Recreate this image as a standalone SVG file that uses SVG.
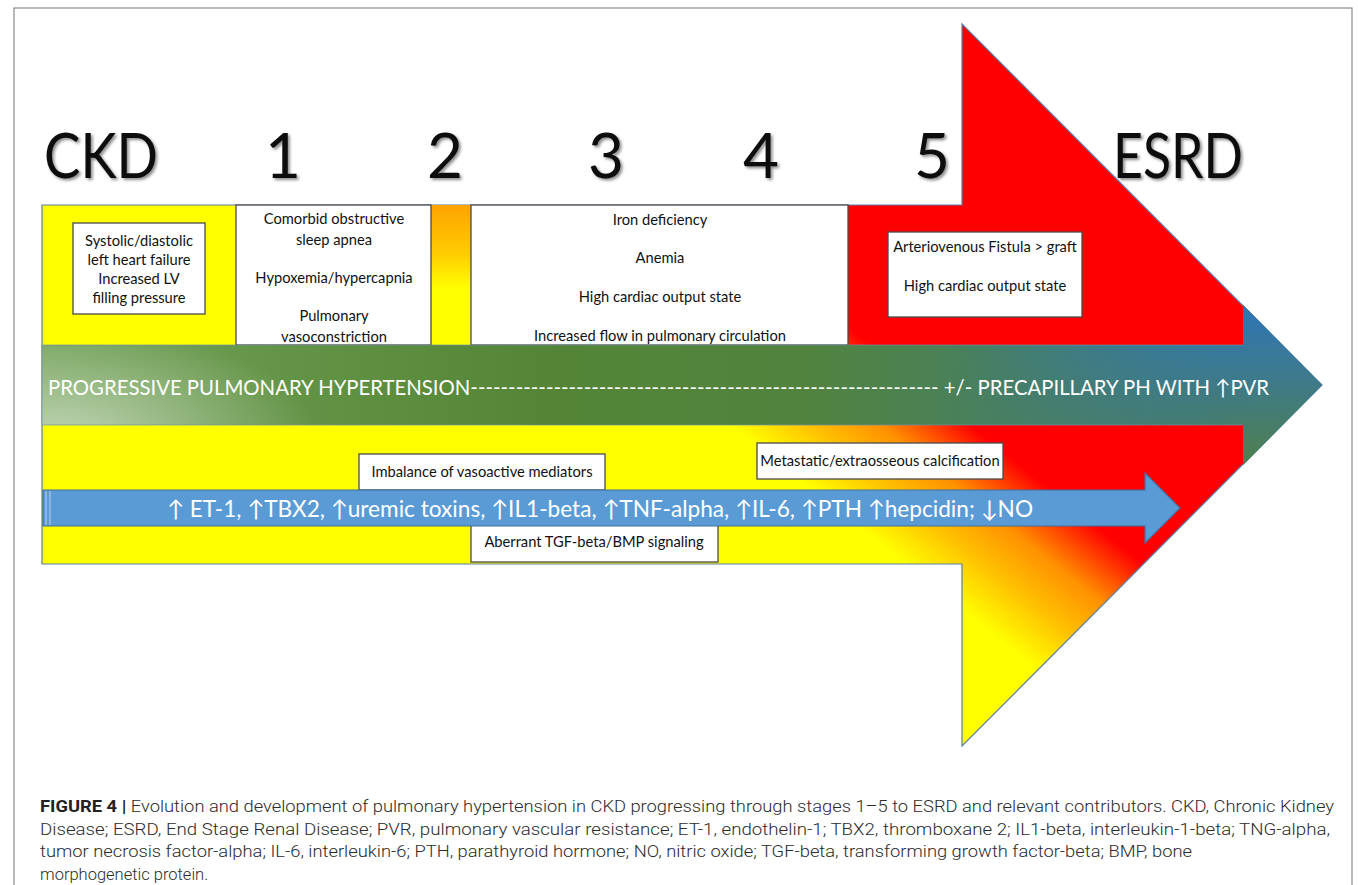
<svg xmlns="http://www.w3.org/2000/svg" width="1358" height="885" viewBox="0 0 1358 885">
<defs>
<style>
.lbl{font-family:Lato,"Liberation Sans",sans-serif;font-size:62px;fill:#0d0d0d;filter:url(#sh)}
.bx{fill:#fff;stroke:#4a4a4a;stroke-width:1.3}
.t{font-family:Lato,"Liberation Sans","DejaVu Sans",sans-serif;font-size:14.7px;fill:#111;text-anchor:middle}
.w{font-family:Lato,"Liberation Sans","DejaVu Sans",sans-serif;fill:#fff}
.cap{font-family:Roboto,"Liberation Sans",sans-serif;font-weight:300;font-size:16.5px;fill:#2b2b2b}
</style>
<filter id="sh" x="-20%" y="-20%" width="140%" height="140%">
<feDropShadow dx="2" dy="2" stdDeviation="1.5" flood-color="#000" flood-opacity="0.45"/>
</filter>
<linearGradient id="gMain" gradientUnits="userSpaceOnUse" x1="650" y1="400" x2="771" y2="249">
<stop offset="0" stop-color="#FFFF00"/>
<stop offset="0.16" stop-color="#FFFF00"/>
<stop offset="0.42" stop-color="#FFC000"/>
<stop offset="0.645" stop-color="#FF9000"/>
<stop offset="0.935" stop-color="#FF0000"/>
<stop offset="1" stop-color="#FF0000"/>
</linearGradient>
<linearGradient id="gCol2" x1="0" y1="0" x2="0" y2="1">
<stop offset="0" stop-color="#FFA300"/>
<stop offset="0.35" stop-color="#FFCC00"/>
<stop offset="0.6" stop-color="#FFFF00"/>
<stop offset="1" stop-color="#FFFF00"/>
</linearGradient>
<linearGradient id="gGreen" gradientUnits="userSpaceOnUse" x1="42" y1="0" x2="1322" y2="0">
<stop offset="0" stop-color="#74a25a"/>
<stop offset="0.15" stop-color="#66974a"/>
<stop offset="0.4" stop-color="#548536"/>
<stop offset="0.6" stop-color="#51833f"/>
<stop offset="0.8" stop-color="#467f6c"/>
<stop offset="1" stop-color="#3476a8"/>
</linearGradient>
<radialGradient id="gGlow" gradientUnits="userSpaceOnUse" cx="60" cy="440" r="260" gradientTransform="translate(0,440) scale(1,0.45) translate(0,-440)">
<stop offset="0" stop-color="#fff" stop-opacity="0.55"/>
<stop offset="1" stop-color="#fff" stop-opacity="0"/>
</radialGradient>
<linearGradient id="gVert" gradientUnits="userSpaceOnUse" x1="0" y1="305" x2="0" y2="465">
<stop offset="0" stop-color="#2e75b6"/>
<stop offset="0.45" stop-color="#3d7a8c"/>
<stop offset="1" stop-color="#4f7f4c"/>
</linearGradient>
<linearGradient id="gMaskH" gradientUnits="userSpaceOnUse" x1="950" y1="0" x2="1250" y2="0">
<stop offset="0" stop-color="#000"/>
<stop offset="1" stop-color="#fff"/>
</linearGradient>
<mask id="mR" maskUnits="userSpaceOnUse" x="0" y="0" width="1358" height="885">
<rect x="0" y="290" width="1358" height="190" fill="url(#gMaskH)"/>
</mask>
</defs>

<rect x="0" y="0" width="1358" height="885" fill="#fff"/>
<rect x="14" y="8" width="1338" height="890" fill="none" stroke="#8a8a8a" stroke-width="1.2"/>

<g id="stage-arrow">
<path d="M42,205 H962 V24 L1322,385 L962,746 V564 H42 Z" fill="url(#gMain)" stroke="#5b7fa6" stroke-width="1.2"/>
</g>

<g id="stage-labels">
<text class="lbl" x="44" y="178" textLength="114" lengthAdjust="spacingAndGlyphs">CKD</text>
<text class="lbl" x="283" y="178" text-anchor="middle">1</text>
<text class="lbl" x="445" y="178" text-anchor="middle">2</text>
<text class="lbl" x="606" y="178" text-anchor="middle">3</text>
<text class="lbl" x="761" y="178" text-anchor="middle">4</text>
<text class="lbl" x="932" y="178" text-anchor="middle">5</text>
<text class="lbl" x="1113" y="178" textLength="130" lengthAdjust="spacingAndGlyphs">ESRD</text>
</g>

<g id="stage2-column">
<rect x="431" y="205" width="40" height="140" fill="url(#gCol2)"/>
</g>

<g id="node-ckd">
<rect class="bx" x="73" y="223" width="132" height="91"/>
<text class="t" x="139" y="246">Systolic/diastolic</text>
<text class="t" x="139" y="265">left heart failure</text>
<text class="t" x="139" y="284">Increased LV</text>
<text class="t" x="139" y="303">filling pressure</text>
</g>

<g id="node-stage1">
<rect class="bx" x="236" y="205" width="195" height="140"/>
<text class="t" x="334" y="224">Comorbid obstructive</text>
<text class="t" x="334" y="245">sleep apnea</text>
<text class="t" x="334" y="283">Hypoxemia/hypercapnia</text>
<text class="t" x="334" y="321">Pulmonary</text>
<text class="t" x="334" y="342">vasoconstriction</text>
</g>

<g id="node-stage34">
<rect class="bx" x="471" y="205" width="377" height="140"/>
<text class="t" x="660" y="225">Iron deficiency</text>
<text class="t" x="660" y="263">Anemia</text>
<text class="t" x="660" y="302">High cardiac output state</text>
<text class="t" x="660" y="341">Increased flow in pulmonary circulation</text>
</g>

<g id="node-stage5">
<rect class="bx" x="888" y="232" width="194" height="85"/>
<text class="t" x="985" y="252">Arteriovenous Fistula &gt; graft</text>
<text class="t" x="985" y="291">High cardiac output state</text>
</g>

<g id="node-ph-band">
<path d="M42,345 H1243 V305 L1322,385 L1243,465 V425 H42 Z" fill="url(#gGreen)"/>
<path d="M42,345 H1243 V305 L1322,385 L1243,465 V425 H42 Z" fill="url(#gVert)" mask="url(#mR)"/>
<rect x="42" y="345" width="600" height="80" fill="url(#gGlow)"/>
<path d="M42,345 H1243 M42,425 H1243 M42,345 V425" fill="none" stroke="#6f8fa8" stroke-width="1" stroke-opacity="0.7"/>
<text class="w" x="48" y="395" font-size="21" textLength="1221" lengthAdjust="spacingAndGlyphs">PROGRESSIVE PULMONARY HYPERTENSION-------------------------------------------------------------- +/- PRECAPILLARY PH WITH ↑PVR</text>
</g>

<g id="node-metastatic">
<rect class="bx" x="757" y="443" width="246" height="36"/>
<text class="t" x="880" y="466">Metastatic/extraosseous calcification</text>
</g>

<g id="node-imbalance">
<rect class="bx" x="359" y="454" width="246" height="36"/>
<text class="t" x="482" y="477">Imbalance of vasoactive mediators</text>
</g>

<g id="node-aberrant">
<rect class="bx" x="471" y="525" width="247" height="37"/>
<text class="t" x="594" y="547">Aberrant TGF-beta/BMP signaling</text>
</g>

<g id="connectors">
<path d="M43,490 H1145 V473 L1180,508 L1145,543 V526 H43 Z" fill="#5b9bd5" stroke="#41719c" stroke-width="1.2"/>
<path d="M46,491 V525 M50,491 V525" stroke="#b7d0e8" stroke-width="1"/>
<text class="w" x="167" y="517" font-size="23" textLength="866" lengthAdjust="spacingAndGlyphs">↑ ET-1, ↑TBX2, ↑uremic toxins, ↑IL1-beta, ↑TNF-alpha, ↑IL-6, ↑PTH ↑hepcidin;  ↓NO</text>
</g>

<g id="caption">
<text class="cap" x="40" y="812" textLength="1294" lengthAdjust="spacingAndGlyphs"><tspan font-weight="700" fill="#222">FIGURE 4 |</tspan> Evolution and development of pulmonary hypertension in CKD progressing through stages 1–5 to ESRD and relevant contributors. CKD, Chronic Kidney</text>
<text class="cap" x="40" y="835" textLength="1290" lengthAdjust="spacingAndGlyphs">Disease; ESRD, End Stage Renal Disease; PVR, pulmonary vascular resistance; ET-1, endothelin-1; TBX2, thromboxane 2; IL1-beta, interleukin-1-beta; TNG-alpha,</text>
<text class="cap" x="40" y="857" textLength="1152" lengthAdjust="spacingAndGlyphs">tumor necrosis factor-alpha; IL-6, interleukin-6; PTH, parathyroid hormone; NO, nitric oxide; TGF-beta, transforming growth factor-beta; BMP, bone</text>
<text class="cap" x="40" y="880">morphogenetic protein.</text>
</g>
</svg>
